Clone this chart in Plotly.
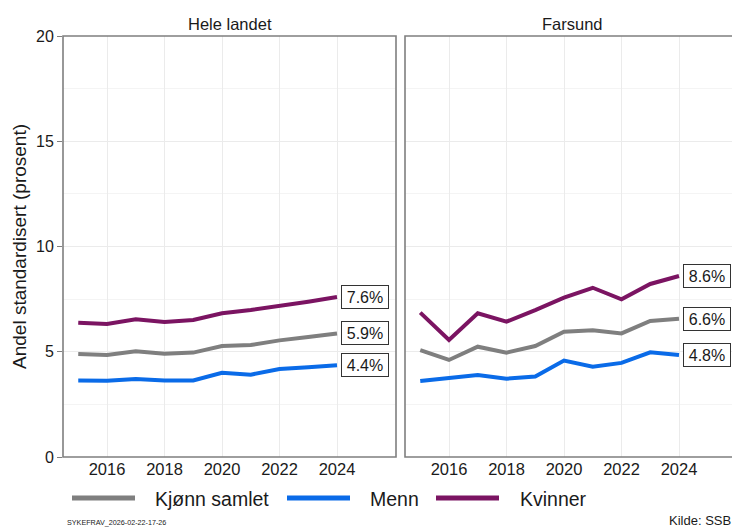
import plotly.graph_objects as go

years = [2015, 2016, 2017, 2018, 2019, 2020, 2021, 2022, 2023, 2024]
series_names = ["Kjønn samlet", "Menn", "Kvinner"]
colors = ["#7f7f7f", "#0a6be8", "#7b1462"]
panels = ["Hele landet", "Farsund"]
x_ticks = [2016, 2018, 2020, 2022, 2024]
y_ticks = [0, 5, 10, 15, 20]

hele_samlet = [4.89, 4.85, 5.02, 4.91, 4.96, 5.27, 5.32, 5.54, 5.70, 5.87]
hele_menn = [3.63, 3.62, 3.70, 3.64, 3.64, 4.00, 3.91, 4.18, 4.26, 4.36]
hele_kvinner = [6.38, 6.32, 6.54, 6.41, 6.51, 6.83, 6.98, 7.17, 7.38, 7.60]

farsund_samlet = [5.08, 4.61, 5.24, 4.96, 5.27, 5.95, 6.02, 5.87, 6.46, 6.57]
farsund_menn = [3.61, 3.75, 3.90, 3.72, 3.82, 4.58, 4.29, 4.47, 4.97, 4.85]
farsund_kvinner = [6.86, 5.56, 6.83, 6.43, 6.98, 7.57, 8.04, 7.49, 8.22, 8.60]

data = {
    "Hele landet": [hele_samlet, hele_menn, hele_kvinner],
    "Farsund": [farsund_samlet, farsund_menn, farsund_kvinner],
}

FONT = "Liberation Sans, Arial, sans-serif"
TXT = "#1a1a1a"
W, H = 732, 530
def px(x):
    return x / W
def py(y):
    return 1 - y / H

fig = go.Figure()

axes = [("x", "y"), ("x2", "y2")]
for (xa, ya), panel in zip(axes, panels):
    for name, col, vals in zip(series_names, colors, data[panel]):
        fig.add_trace(go.Scatter(
            x=years, y=vals, mode="lines", name=name,
            line=dict(color=col, width=4), xaxis=xa, yaxis=ya,
            showlegend=False,
        ))
        fig.add_annotation(
            x=years[-1], y=vals[-1], xref=xa, yref=ya,
            text=f"{vals[-1]:.1f}%", showarrow=False,
            xanchor="left", yanchor="middle", xshift=4,
            width=42, height=18, align="center",
            font=dict(family=FONT, size=16, color=TXT),
            bgcolor="white", bordercolor="#333333", borderwidth=1, borderpad=2,
        )

y_bot, y_top = 457, 36
ydom = [py(y_bot), py(y_top)]
scale = 230 / 8.0  # px per year
x0 = 2016 - (107 - 63) / scale

common_x = dict(
    tickvals=x_ticks, showgrid=True, gridcolor="#ebebeb",
    gridwidth=1, zeroline=False, showline=False, ticks="", automargin=False,
    tickfont=dict(family=FONT, size=16.5, color=TXT),
)
common_y = dict(
    range=[0, 20], tickvals=y_ticks, showgrid=True, gridcolor="#ebebeb",
    zeroline=False, showline=False, automargin=False,
    minor=dict(dtick=2.5, showgrid=True, gridcolor="#f4f4f4", gridwidth=1),
)

fig.update_layout(
    width=W, height=H, margin=dict(l=0, r=0, t=0, b=0, autoexpand=False),
    plot_bgcolor="white", paper_bgcolor="white",
    font=dict(family=FONT, color=TXT),
    xaxis=dict(domain=[px(63), px(396)], range=[x0, x0 + 333 / scale], anchor="y", **common_x),
    xaxis2=dict(domain=[px(405), 1.0], range=[x0, x0 + 327 / scale], anchor="y2", **common_x),
    yaxis=dict(domain=ydom, anchor="x", ticks="outside", ticklen=5, tickcolor="#7f7f7f",
               tickfont=dict(family=FONT, size=16, color=TXT),
               title=dict(text="Andel standardisert (prosent)",
                          font=dict(family=FONT, size=19, color=TXT),
                          standoff=4),
               **common_y),
    yaxis2=dict(domain=ydom, anchor="x2", showticklabels=False, ticks="", **common_y),
    showlegend=False,
)

# panel borders
for xl, xr in [(63, 396), (405, 738)]:
    fig.add_shape(type="rect", xref="paper", yref="paper",
                  x0=px(xl), x1=px(xr), y0=py(y_bot), y1=py(y_top),
                  line=dict(color="#7f7f7f", width=1.6), layer="above")

# strip titles
for panel, cx in zip(panels, [230, 572]):
    fig.add_annotation(x=px(cx), y=py(24), xref="paper", yref="paper", text=panel,
                       showarrow=False, xanchor="center", yanchor="middle",
                       font=dict(family=FONT, size=16.5, color=TXT))

# legend (drawn manually to match wide keys)
leg_lines = [(72, 135), (287, 350), (436, 499)]
leg_text_x = [153, 368, 518]
for name, col, (l0, l1), tx in zip(series_names, colors, leg_lines, leg_text_x):
    fig.add_shape(type="line", xref="paper", yref="paper",
                  x0=px(l0), x1=px(l1), y0=py(498), y1=py(498),
                  line=dict(color=col, width=5))
    fig.add_annotation(x=px(tx), y=py(499), xref="paper", yref="paper", text=name,
                       showarrow=False, xanchor="left", yanchor="middle",
                       font=dict(family=FONT, size=19.5, color=TXT))

fig.add_annotation(x=px(65), y=py(522), xref="paper", yref="paper",
                   text="SYKEFRAV_2026-02-22-17-26", showarrow=False,
                   xanchor="left", yanchor="middle",
                   font=dict(family=FONT, size=7.2, color=TXT))
fig.add_annotation(x=px(667), y=py(511), xref="paper", yref="paper",
                   text="Kilde: SSB", showarrow=False,
                   xanchor="left", yanchor="top",
                   font=dict(family=FONT, size=13, color=TXT))

fig.write_html("out.html", config={"displayModeBar": False},
               post_script="document.body.style.margin='0';document.body.style.overflow='hidden';")
